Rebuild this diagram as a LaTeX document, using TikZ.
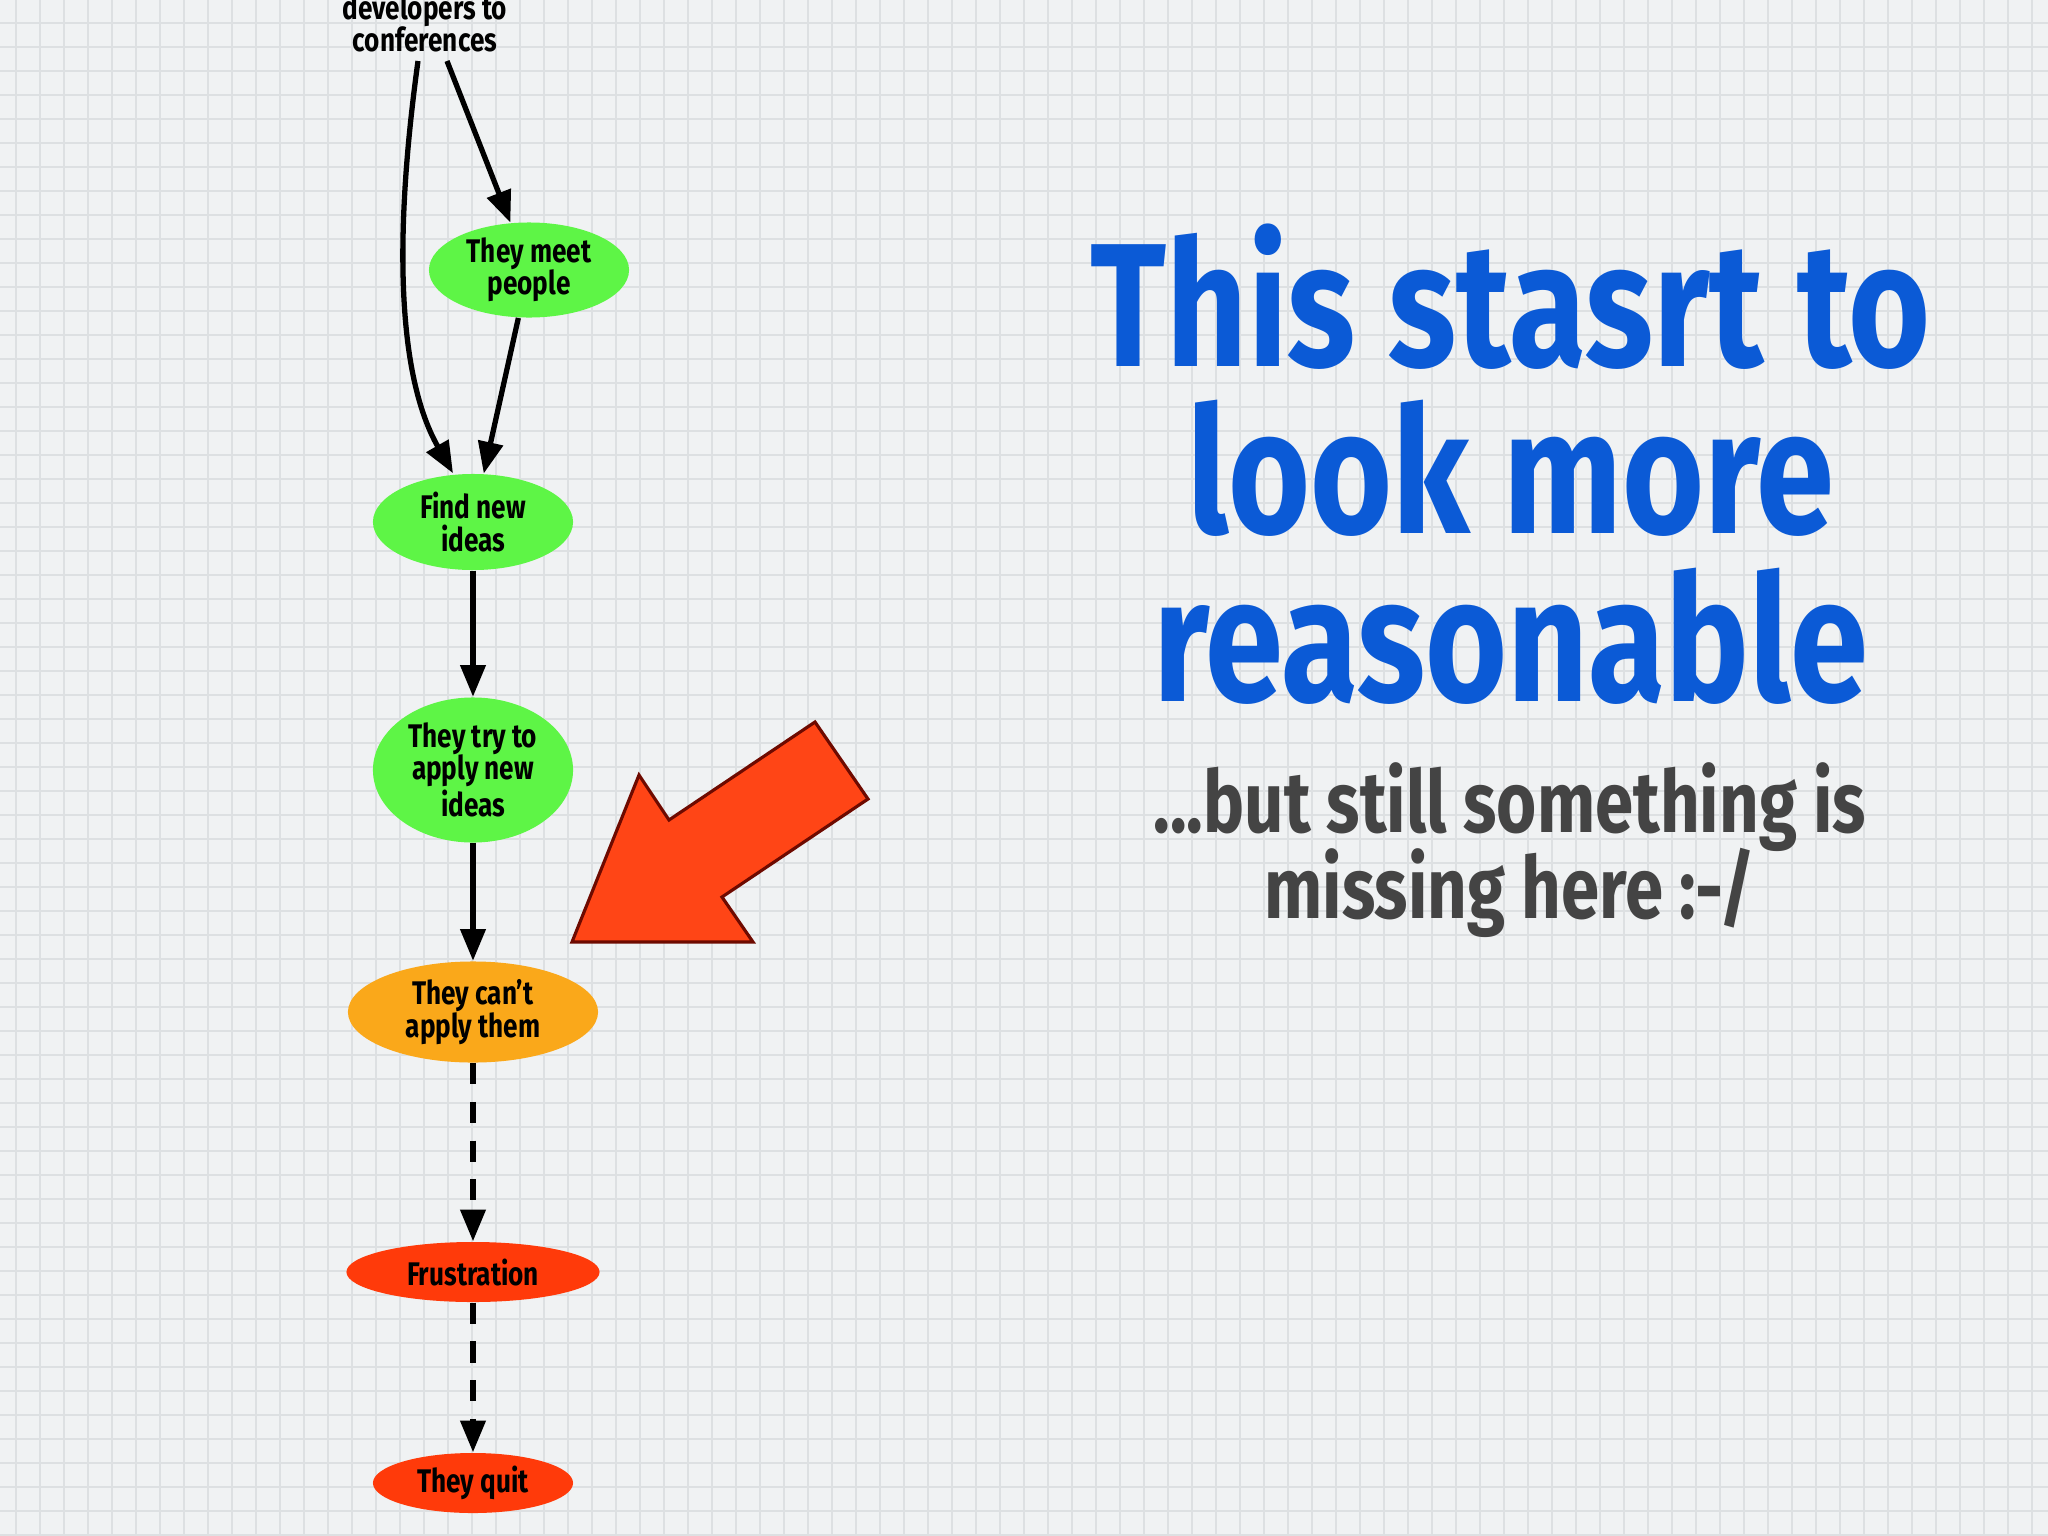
\documentclass[tikz,border=0pt]{standalone}
\usepackage{fontspec}
\setmainfont{Fira Sans}[FakeStretch=0.8]
\usetikzlibrary{arrows.meta,calc,shapes.geometric}
\definecolor{paper}{HTML}{F0F2F3}
\definecolor{gridgray}{HTML}{DDE0E2}
\definecolor{ideagreen}{HTML}{5EF546}
\definecolor{warnorange}{HTML}{FAA81A}
\definecolor{failred}{HTML}{FF3A0A}
\definecolor{pointerred}{HTML}{FF4516}
\definecolor{pointeredge}{HTML}{6E0A00}
\definecolor{headblue}{HTML}{0B5AD6}
\definecolor{subgray}{HTML}{444444}
\tikzset{
	flownode/.style={ellipse,inner sep=0pt,align=center,font=\bfseries\fontsize{9.3}{9.2}\selectfont},
	flowedge/.style={line width=1.5pt,-{Triangle[length=9pt,width=7pt]}},
	gridline/.style={gridgray,line width=0.45pt},
	headline/.style={anchor=base,text=headblue,font=\bfseries\fontsize{50}{47}\selectfont},
	subline/.style={anchor=base,text=subgray,font=\bfseries\fontsize{24.5}{24}\selectfont},
	pointer/.style={fill=pointerred,draw=pointeredge,line width=0.9pt,line join=miter}
}

\begin{document}
\begin{tikzpicture}[x=0.01cm,y=-0.01cm]
	\useasboundingbox (0,0) rectangle (2048,1536);
	\fill[paper] (0,0) rectangle (2048,1536);
	\foreach \gx in {16,40,...,2040}{
		\draw[gridline] (\gx,0) -- (\gx,1536);
		}
	\foreach \gy in {23,47,...,1535}{
		\draw[gridline] (0,\gy) -- (2048,\gy);
		}
	\node[inner sep=0pt,anchor=south,align=center,font=\bfseries\fontsize{9.3}{9.2}\selectfont] (conf) at (425,53) {developers to\\conferences};
	\node[flownode,fill=ideagreen,minimum width=2cm,minimum height=0.95cm] (meet) at (529,270) {They meet\\people};
	\node[flownode,fill=ideagreen,minimum width=2cm,minimum height=0.96cm] (find) at (473,522) {Find new\\ideas};
	\node[flownode,fill=ideagreen,minimum width=2cm,minimum height=1.45cm] (try) at (473,770) {They try to\\apply new\\ideas};
	\node[flownode,fill=warnorange,minimum width=2.5cm,minimum height=1.01cm] (cant) at (473,1012) {They can't\\apply them};
	\node[flownode,fill=failred,minimum width=2.53cm,minimum height=0.6cm] (frus) at (473,1272) {Frustration};
	\node[flownode,fill=failred,minimum width=2cm,minimum height=0.6cm] (quit) at (473,1483) {They quit};
	\draw[flowedge] ($(conf.south)+(22,8)$) -- (meet);
	\draw[flowedge] ($(conf.south)+(-7,8)$) .. controls (392,250) and (400,380) .. ($(find.north)+(-20,0)$);
	\draw[flowedge] (meet) -- (find);
	\draw[flowedge] (find) -- (try);
	\draw[flowedge] (try) -- (cant);
	\draw[flowedge,dash pattern=on 6pt off 5pt] (cant) -- (frus);
	\draw[flowedge,dash pattern=on 6pt off 5pt] (frus) -- (quit);
	\draw[pointer] (815,722) -- (868,799) -- (722,897) -- (753,942) -- (572,942) -- (639,775) -- (669,820) -- cycle;
	\node[headline] (head1) at (1511,366) {This stasrt to};
	\node[headline] (head2) at (1511,533) {look more};
	\node[headline] (head3) at (1511,701) {reasonable};
	\node[subline] (sub1) at (1510,832) {...but still something is};
	\node[subline] (sub2) at (1510,918) {missing here :-/};
\end{tikzpicture}
\end{document}
